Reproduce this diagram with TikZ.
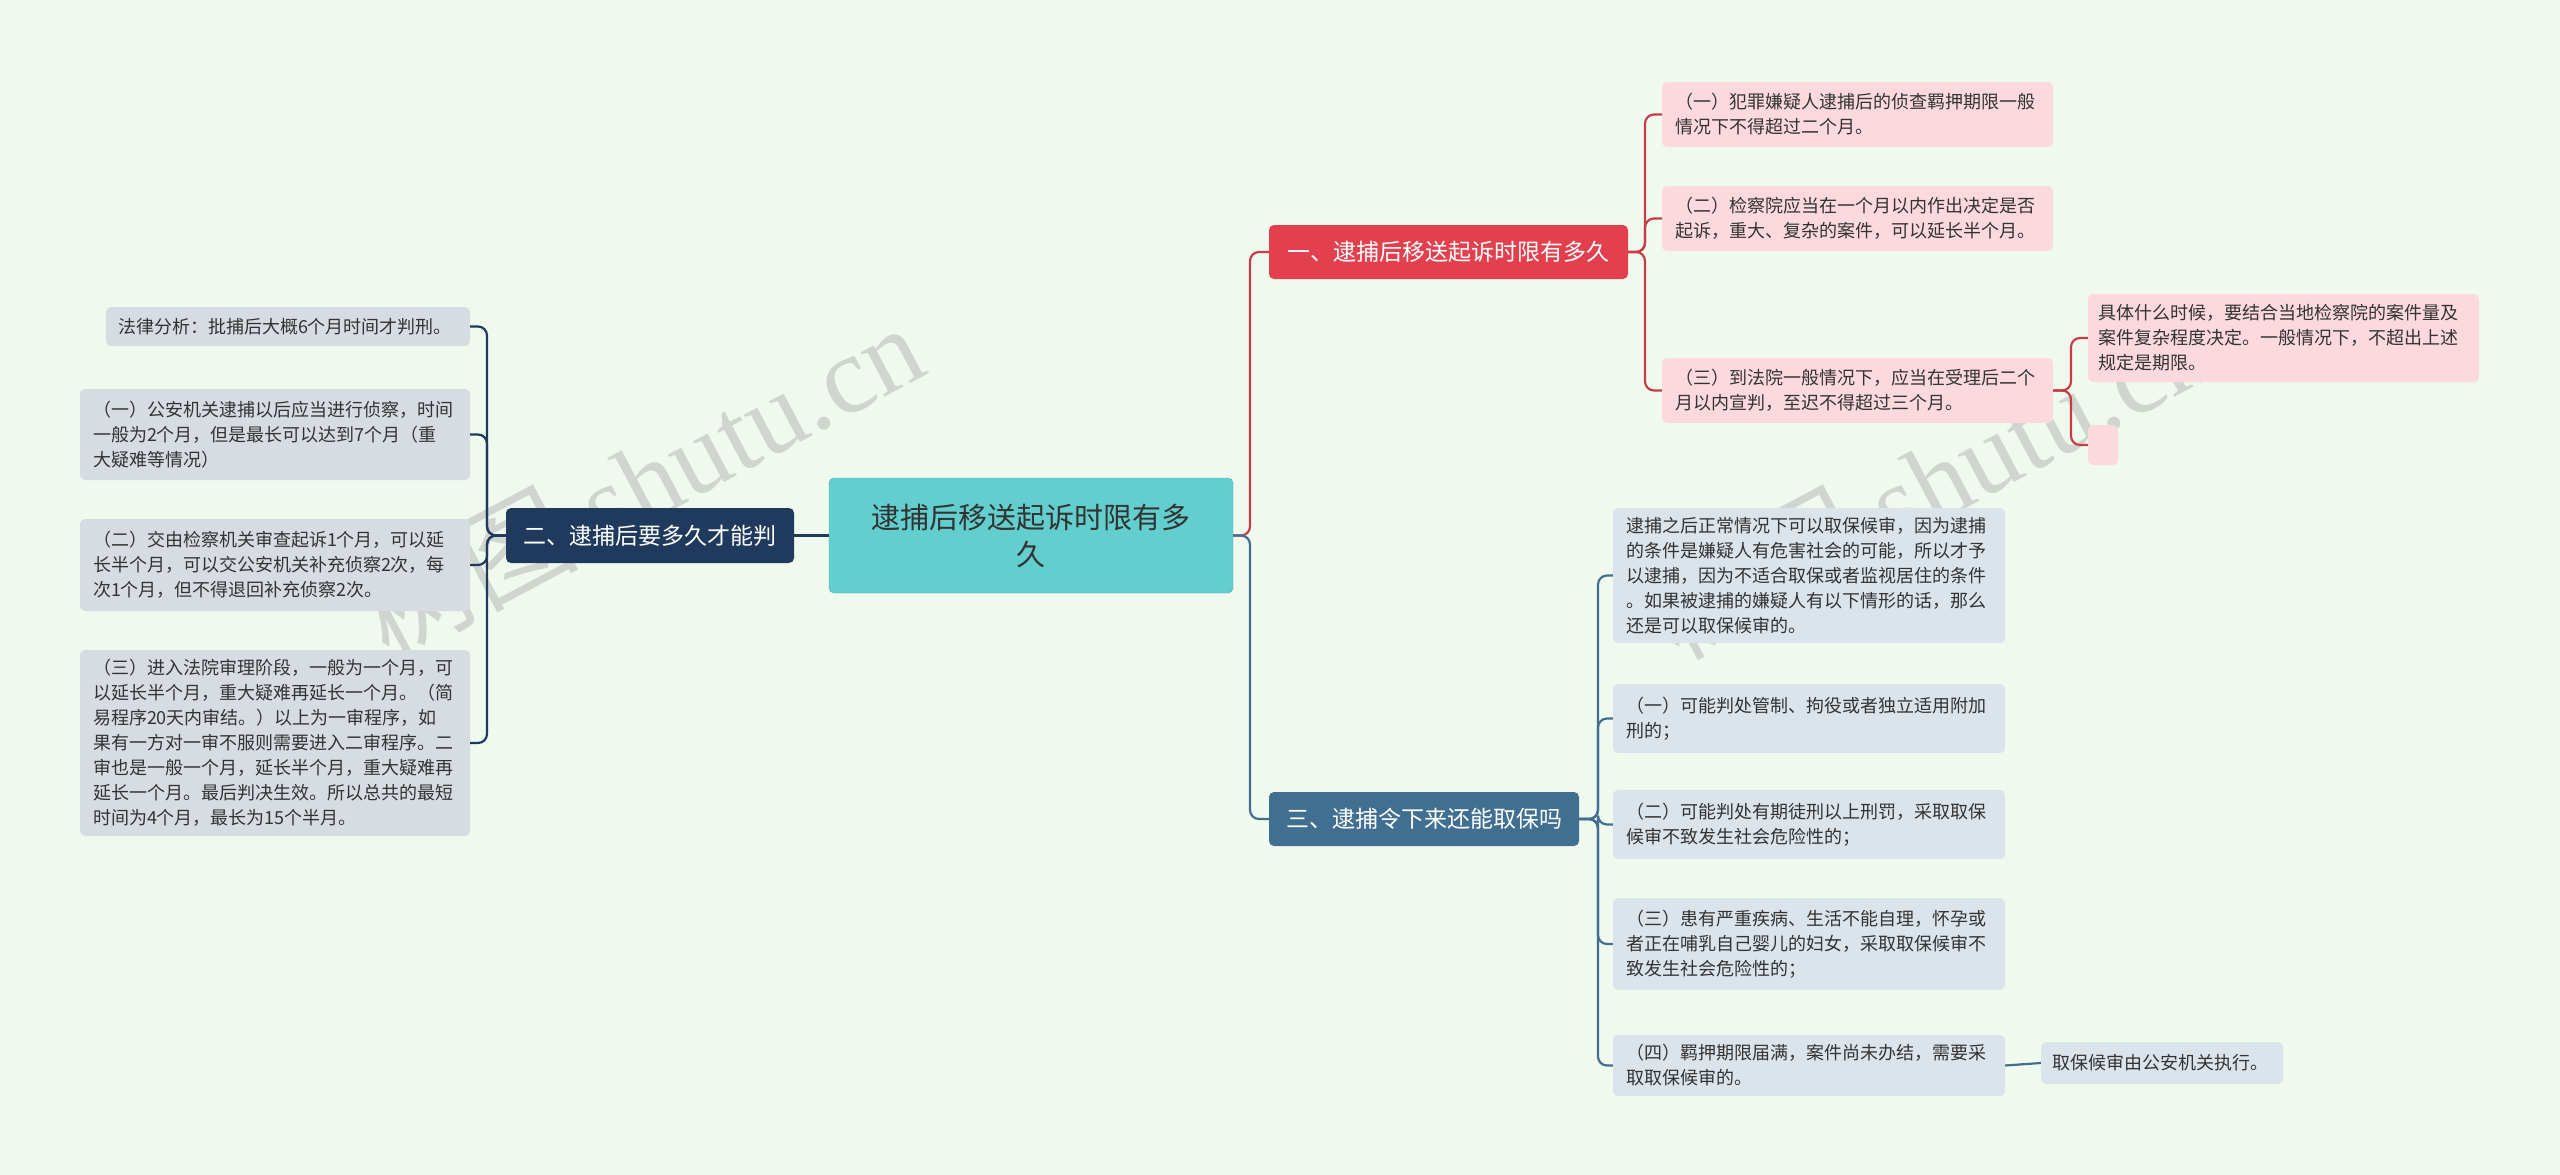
\documentclass[tikz,border=0pt]{standalone}
\usepackage{fontspec}
\setmainfont{Noto Sans CJK SC}
\newfontfamily\wmfont{Liberation Serif}
\definecolor{bg}{HTML}{F0F9EE}
\definecolor{cr}{HTML}{C63D48}
\definecolor{crf}{HTML}{E2404E}
\definecolor{cn}{HTML}{1F3A5C}
\definecolor{cbb}{HTML}{416F91}
\definecolor{pk}{HTML}{FBD9DE}
\definecolor{cg}{HTML}{D6DCE2}
\definecolor{cb}{HTML}{DCE4EB}
\definecolor{teal1}{HTML}{62CECE}
\definecolor{teal2}{HTML}{50B4B4}
\begin{document}
\begin{tikzpicture}[x=1pt,y=-1pt,
  every node/.style={font=\fontsize{18}{25}\selectfont, text=black!80, inner sep=0pt},
  box/.style={rounded corners=5pt, align=left},
  wm/.style={rotate=28, text=gray!55, opacity=0.55, font=\fontsize{110}{115}\selectfont},
  lr/.style={draw=cr, line width=2.2pt, rounded corners=9pt},
  ln/.style={draw=cn, line width=2.2pt, rounded corners=9pt},
  lb/.style={draw=cbb, line width=2.2pt, rounded corners=9pt}]
\fill[bg] (0,0) rectangle (2560,1175);
\useasboundingbox (0,0) rectangle (2560,1175);
% watermark
\node[wm] (wm1) at (640,480) {树图 {\wmfont shutu.cn}};
\node[wm] (wm2) at (1930,480) {树图 {\wmfont shutu.cn}};
% center
\node[box, fill=teal1, draw=teal2, minimum width=404pt, minimum height=115pt, align=center, font=\fontsize{29}{37}\selectfont, text=black!80] (root) at (1031,535.5) {逮捕后移送起诉时限有多\\久};
% branches
\node[box, fill=crf, text=white, minimum width=359pt, minimum height=54pt, align=center, font=\fontsize{23}{26}\selectfont] (b1) at (1448.5,252) {一、逮捕后移送起诉时限有多久};
\node[box, fill=cn, text=white, minimum width=288pt, minimum height=55pt, align=center, font=\fontsize{23}{26}\selectfont] (b2) at (650,535.5) {二、逮捕后要多久才能判};
\node[box, fill=cbb, text=white, minimum width=310pt, minimum height=54pt, align=center, font=\fontsize{23}{26}\selectfont] (b3) at (1424,819) {三、逮捕令下来还能取保吗};
% red leaves
\node[box, fill=pk, minimum width=391pt, minimum height=65pt, text width=365pt] (c1) at (1857.5,114.5) {（一）犯罪嫌疑人逮捕后的侦查羁押期限一般\\情况下不得超过二个月。};
\node[box, fill=pk, minimum width=391pt, minimum height=65pt, text width=365pt] (c2) at (1857.5,218.5) {（二）检察院应当在一个月以内作出决定是否\\起诉，重大、复杂的案件，可以延长半个月。};
\node[box, fill=pk, minimum width=391pt, minimum height=65pt, text width=365pt] (c3) at (1857.5,390.5) {（三）到法院一般情况下，应当在受理后二个\\月以内宣判，至迟不得超过三个月。};
\node[box, fill=pk, minimum width=391pt, minimum height=88pt, text width=371pt] (g1) at (2283.5,338) {具体什么时候，要结合当地检察院的案件量及\\案件复杂程度决定。一般情况下，不超出上述\\规定是期限。};
\node[box, fill=pk, minimum width=30pt, minimum height=40pt] (g2) at (2103,445) {};
% navy leaves
\node[box, fill=cg, minimum width=364pt, minimum height=39pt, text width=340pt] (l1) at (288,326.5) {法律分析：批捕后大概6个月时间才判刑。};
\node[box, fill=cg, minimum width=390pt, minimum height=91pt, text width=364pt] (l2) at (275,434.5) {（一）公安机关逮捕以后应当进行侦察，时间\\一般为2个月，但是最长可以达到7个月（重\\大疑难等情况）};
\node[box, fill=cg, minimum width=390pt, minimum height=92pt, text width=364pt] (l3) at (275,565) {（二）交由检察机关审查起诉1个月，可以延\\长半个月，可以交公安机关补充侦察2次，每\\次1个月，但不得退回补充侦察2次。};
\node[box, fill=cg, minimum width=390pt, minimum height=186pt, text width=364pt] (l4) at (275,743) {（三）进入法院审理阶段，一般为一个月，可\\以延长半个月，重大疑难再延长一个月。（简\\易程序20天内审结。）以上为一审程序，如\\果有一方对一审不服则需要进入二审程序。二\\审也是一般一个月，延长半个月，重大疑难再\\延长一个月。最后判决生效。所以总共的最短\\时间为4个月，最长为15个半月。};
% blue leaves
\node[box, fill=cb, minimum width=392pt, minimum height=135pt, text width=366pt] (r1) at (1809,575.5) {逮捕之后正常情况下可以取保候审，因为逮捕\\的条件是嫌疑人有危害社会的可能，所以才予\\以逮捕，因为不适合取保或者监视居住的条件\\。如果被逮捕的嫌疑人有以下情形的话，那么\\还是可以取保候审的。};
\node[box, fill=cb, minimum width=392pt, minimum height=69pt, text width=366pt] (r2) at (1809,718.5) {（一）可能判处管制、拘役或者独立适用附加\\刑的；};
\node[box, fill=cb, minimum width=392pt, minimum height=69pt, text width=366pt] (r3) at (1809,824.5) {（二）可能判处有期徒刑以上刑罚，采取取保\\候审不致发生社会危险性的；};
\node[box, fill=cb, minimum width=392pt, minimum height=92pt, text width=366pt] (r4) at (1809,944) {（三）患有严重疾病、生活不能自理，怀孕或\\者正在哺乳自己婴儿的妇女，采取取保候审不\\致发生社会危险性的；};
\node[box, fill=cb, minimum width=392pt, minimum height=61pt, text width=366pt] (r5) at (1809,1065.5) {（四）羁押期限届满，案件尚未办结，需要采\\取取保候审的。};
\node[box, fill=cb, minimum width=242pt, minimum height=42pt, text width=220pt] (r6) at (2162,1063) {取保候审由公安机关执行。};
% connectors
\draw[lr] (root.east) -- (1250,535.5) |- (b1.west);
\draw[lb] (root.east) -- (1250,535.5) |- (b3.west);
\draw[ln] (root.west) -- (b2.east);
\foreach \c in {c1,c2,c3} \draw[lr] (b1.east) -- (1645,252) |- (\c.west);
\foreach \c in {g1,g2} \draw[lr] (c3.east) -- (2071,390.5) |- (\c.west);
\foreach \c in {l1,l2,l3,l4} \draw[ln] (b2.west) -- (487,535.5) |- (\c.east);
\foreach \c in {r1,r2,r3,r4,r5} \draw[lb] (b3.east) -- (1598,819) |- (\c.west);
\draw[lb] (r5.east) -- (r6.west);
\end{tikzpicture}
\end{document}
